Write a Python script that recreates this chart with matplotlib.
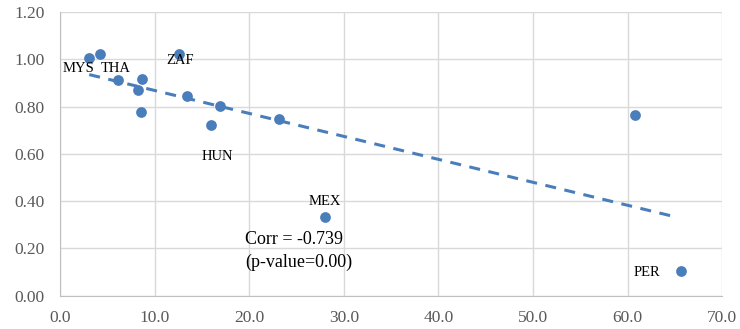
import matplotlib.pyplot as plt
import numpy as np

plt.rcParams['font.family'] = ['Liberation Serif', 'DejaVu Serif']

# scatter data
x_vals = [3.1, 4.2, 6.1, 8.7, 8.3, 8.6, 12.6, 13.4, 16.9, 16.0, 23.2, 28.0, 60.8, 65.6]
y_vals = [1.004, 1.022, 0.911, 0.915, 0.869, 0.778, 1.021, 0.846, 0.804, 0.721, 0.748, 0.332, 0.765, 0.104]

# country labels (label, x, y of text centre)
lab_names = ['MYS', 'THA', 'ZAF', 'HUN', 'MEX', 'PER']
lab_x = [2.0, 5.9, 12.7, 16.6, 28.0, 62.0]
lab_y = [0.963, 0.963, 0.993, 0.591, 0.40, 0.10]

blue = '#4a7ebb'

fig = plt.figure(figsize=(7.4, 3.29), dpi=100)
ax = fig.add_axes([0.081, 0.101, 0.895, 0.8625])

ax.scatter(x_vals, y_vals, s=60, color=blue, zorder=3, linewidths=0)

# linear trendline
k, b = np.polyfit(x_vals, y_vals, 1)
tx = np.array([min(x_vals), max(x_vals) - 1.0])
ax.plot(tx, k * tx + b, color=blue, linewidth=2.2, dashes=(3.6, 2.8), zorder=2)

for name, lx, ly in zip(lab_names, lab_x, lab_y):
    ax.text(lx, ly, name, fontsize=10.5, ha='center', va='center', color='black')

ax.text(19.6, 0.236, 'Corr = -0.739', fontsize=13, ha='left', va='center')
ax.text(19.6, 0.143, '(p-value=0.00)', fontsize=13, ha='left', va='center')

ax.set_xlim(0, 70)
ax.set_ylim(0, 1.2)
ax.set_xticks(np.arange(0, 71, 10))
ax.set_yticks(np.arange(0, 1.21, 0.2))
ax.set_xticklabels(['%.1f' % v for v in np.arange(0, 71, 10)])
ax.set_yticklabels(['%.2f' % v for v in np.arange(0, 1.21, 0.2)])
ax.tick_params(length=0, labelsize=12.5, colors='#595959')
ax.tick_params(axis='y', pad=11)
ax.tick_params(axis='x', pad=10)
ax.grid(True, color='#d9d9d9', linewidth=1)
ax.set_axisbelow(True)
for sp in ['top', 'right']:
    ax.spines[sp].set_visible(False)
for sp in ['left', 'bottom']:
    ax.spines[sp].set_color('#bfbfbf')

plt.savefig('out.png', dpi=100)
